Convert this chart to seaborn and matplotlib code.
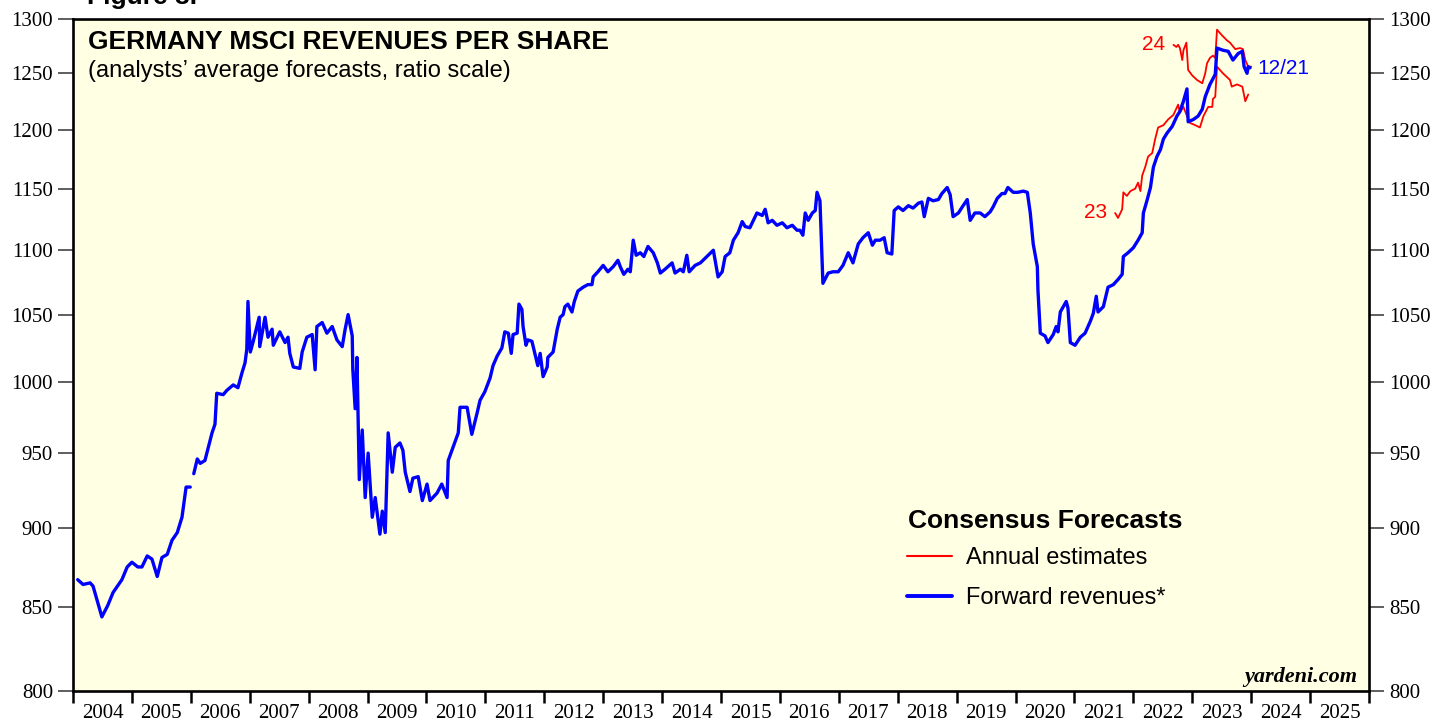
import matplotlib
matplotlib.use("Agg")
import matplotlib.pyplot as plt
import numpy as np
import pandas as pd
import seaborn as sns
from matplotlib.lines import Line2D
from matplotlib.ticker import FixedFormatter, FixedLocator, MultipleLocator, NullFormatter, NullLocator

# forward revenues per share (weekly-ish readings, decimal years); NaN marks the gap at end of 2005
fwd_years = [
	2004.08, 2004.17, 2004.29, 2004.34, 2004.49, 2004.59, 2004.68, 2004.83, 2004.92, 2005.00,
	2005.10, 2005.17, 2005.26, 2005.34, 2005.43, 2005.51, 2005.60, 2005.68, 2005.77, 2005.85,
	2005.92, 2005.99, 2006.02, 2006.05, 2006.11, 2006.16, 2006.24, 2006.29, 2006.36, 2006.41,
	2006.44, 2006.55, 2006.61, 2006.72, 2006.80, 2006.87, 2006.92, 2006.95, 2006.97, 2007.01,
	2007.06, 2007.16, 2007.17, 2007.26, 2007.31, 2007.38, 2007.40, 2007.51, 2007.60, 2007.65,
	2007.68, 2007.74, 2007.85, 2007.89, 2007.97, 2008.06, 2008.11, 2008.14, 2008.23, 2008.31,
	2008.40, 2008.48, 2008.57, 2008.62, 2008.67, 2008.74, 2008.75, 2008.79, 2008.82, 2008.86,
	2008.91, 2008.96, 2009.01, 2009.08, 2009.13, 2009.21, 2009.25, 2009.30, 2009.35, 2009.42,
	2009.47, 2009.55, 2009.60, 2009.64, 2009.72, 2009.77, 2009.86, 2009.93, 2010.01, 2010.06,
	2010.18, 2010.26, 2010.35, 2010.37, 2010.45, 2010.54, 2010.57, 2010.69, 2010.77, 2010.86,
	2010.91, 2010.99, 2011.08, 2011.13, 2011.20, 2011.28, 2011.33, 2011.39, 2011.44, 2011.47,
	2011.54, 2011.57, 2011.62, 2011.64, 2011.69, 2011.72, 2011.79, 2011.84, 2011.89, 2011.93,
	2011.98, 2012.05, 2012.06, 2012.15, 2012.22, 2012.27, 2012.32, 2012.35, 2012.40, 2012.47,
	2012.51, 2012.57, 2012.66, 2012.74, 2012.81, 2012.83, 2012.91, 2013.00, 2013.08, 2013.17,
	2013.25, 2013.29, 2013.35, 2013.42, 2013.46, 2013.51, 2013.56, 2013.63, 2013.69, 2013.76,
	2013.85, 2013.92, 2013.97, 2014.05, 2014.17, 2014.22, 2014.31, 2014.36, 2014.42, 2014.46,
	2014.56, 2014.65, 2014.76, 2014.87, 2014.95, 2015.02, 2015.07, 2015.15, 2015.21, 2015.29,
	2015.36, 2015.41, 2015.49, 2015.54, 2015.61, 2015.70, 2015.75, 2015.80, 2015.87, 2015.95,
	2016.04, 2016.12, 2016.21, 2016.29, 2016.34, 2016.39, 2016.43, 2016.48, 2016.55, 2016.60,
	2016.63, 2016.68, 2016.72, 2016.73, 2016.82, 2016.90, 2016.99, 2017.07, 2017.16, 2017.24,
	2017.33, 2017.41, 2017.50, 2017.57, 2017.62, 2017.70, 2017.77, 2017.82, 2017.90, 2017.94,
	2018.01, 2018.09, 2018.18, 2018.26, 2018.35, 2018.41, 2018.45, 2018.52, 2018.60, 2018.69,
	2018.75, 2018.84, 2018.89, 2018.94, 2019.03, 2019.11, 2019.18, 2019.23, 2019.31, 2019.40,
	2019.48, 2019.57, 2019.62, 2019.69, 2019.77, 2019.82, 2019.87, 2019.96, 2020.04, 2020.13,
	2020.20, 2020.25, 2020.30, 2020.37, 2020.38, 2020.42, 2020.50, 2020.55, 2020.64, 2020.69,
	2020.72, 2020.76, 2020.81, 2020.86, 2020.89, 2020.93, 2021.01, 2021.10, 2021.18, 2021.27,
	2021.32, 2021.37, 2021.40, 2021.49, 2021.57, 2021.66, 2021.74, 2021.81, 2021.83, 2021.91,
	2022.00, 2022.08, 2022.15, 2022.17, 2022.23, 2022.29, 2022.34, 2022.40, 2022.46, 2022.51,
	2022.57, 2022.66, 2022.74, 2022.79, 2022.85, 2022.91, 2022.93, 2023.02, 2023.10, 2023.17,
	2023.22, 2023.30, 2023.39, 2023.42, 2023.52, 2023.61, 2023.69, 2023.78, 2023.85, 2023.88,
	2023.93, 2023.95, 2023.98,
]
fwd_values = [
	867, 864, 865, 863, 844, 851, 859, 867, 875, 878,
	875, 875, 882, 880, 869, 881, 883, 892, 897, 907,
	927, 927, np.nan, 936, 946, 943, 945, 953, 964, 970,
	992, 991, 994, 998, 996, 1007, 1014, 1024, 1060, 1022,
	1030, 1048, 1026, 1048, 1033, 1039, 1027, 1037, 1029, 1033,
	1021, 1011, 1010, 1022, 1033, 1035, 1009, 1041, 1044, 1036,
	1041, 1031, 1026, 1039, 1050, 1034, 1009, 981, 1018, 932,
	966, 920, 950, 907, 920, 896, 911, 897, 964, 937,
	954, 957, 952, 937, 924, 933, 934, 918, 929, 918,
	923, 929, 920, 945, 954, 964, 982, 982, 963, 978,
	987, 993, 1003, 1012, 1019, 1025, 1037, 1036, 1021, 1035,
	1036, 1058, 1054, 1041, 1027, 1031, 1030, 1021, 1012, 1021,
	1004, 1011, 1018, 1022, 1039, 1048, 1050, 1056, 1058, 1052,
	1060, 1068, 1071, 1073, 1073, 1079, 1083, 1088, 1083, 1087,
	1092, 1087, 1081, 1085, 1083, 1108, 1096, 1098, 1095, 1103,
	1098, 1090, 1082, 1085, 1090, 1082, 1085, 1083, 1096, 1083,
	1088, 1090, 1095, 1100, 1079, 1083, 1095, 1098, 1108, 1114,
	1123, 1119, 1118, 1123, 1130, 1128, 1133, 1122, 1124, 1120,
	1122, 1118, 1120, 1116, 1116, 1112, 1130, 1124, 1130, 1132,
	1147, 1140, 1087, 1074, 1082, 1083, 1083, 1088, 1098, 1090,
	1105, 1110, 1114, 1104, 1108, 1108, 1110, 1098, 1097, 1132,
	1135, 1132, 1136, 1134, 1138, 1139, 1127, 1142, 1140, 1141,
	1146, 1151, 1145, 1127, 1130, 1136, 1141, 1124, 1130, 1130,
	1127, 1131, 1135, 1142, 1146, 1146, 1151, 1147, 1147, 1148,
	1147, 1130, 1105, 1087, 1069, 1036, 1034, 1029, 1035, 1041,
	1037, 1052, 1056, 1060, 1055, 1029, 1027, 1033, 1036, 1045,
	1051, 1064, 1052, 1056, 1071, 1073, 1077, 1081, 1095, 1098,
	1102, 1108, 1114, 1130, 1140, 1151, 1168, 1177, 1183, 1192,
	1197, 1203, 1212, 1216, 1225, 1236, 1207, 1209, 1212, 1218,
	1229, 1240, 1249, 1273, 1271, 1270, 1262, 1268, 1270, 1256,
	1250, 1256, 1255,
]

# annual consensus estimates for 2023 and 2024
est23_years = [
	2021.69, 2021.74, 2021.81, 2021.83, 2021.89, 2021.95, 2022.03, 2022.08, 2022.12, 2022.15,
	2022.20, 2022.25, 2022.32, 2022.37, 2022.42, 2022.51, 2022.59, 2022.68, 2022.76, 2022.79,
	2022.85, 2022.91, 2022.96, 2023.05, 2023.13, 2023.19, 2023.27, 2023.34, 2023.35, 2023.39,
	2023.42, 2023.52, 2023.64, 2023.67, 2023.76, 2023.85, 2023.90, 2023.95,
]
est23_values = [
	1130, 1126, 1133, 1147, 1144, 1148, 1150, 1155, 1148, 1161,
	1168, 1177, 1180, 1192, 1202, 1204, 1209, 1213, 1222, 1215,
	1220, 1212, 1206, 1204, 1202, 1212, 1220, 1220, 1227, 1229,
	1256, 1250, 1244, 1238, 1240, 1238, 1225, 1231,
]
est24_years = [
	2022.68, 2022.73, 2022.76, 2022.79, 2022.83, 2022.85, 2022.90, 2022.93, 2023.00, 2023.08,
	2023.17, 2023.22, 2023.25, 2023.30, 2023.35, 2023.39, 2023.42, 2023.50, 2023.59, 2023.64,
	2023.73, 2023.81, 2023.86, 2023.90, 2023.95, 2024.00,
]
est24_values = [
	1276, 1274, 1276, 1273, 1262, 1271, 1278, 1253, 1248, 1244,
	1241, 1250, 1259, 1264, 1266, 1264, 1290, 1285, 1280, 1278,
	1272, 1273, 1272, 1262, 1256, 1256,
]

year_labels = [str(y) for y in range(2004, 2026)]
y_ticks = [800, 850, 900, 950, 1000, 1050, 1100, 1150, 1200, 1250, 1300]

SANS = "Liberation Sans"
SERIF = "Liberation Serif"


def plot_revenues(out_path: str = "out.png") -> None:
	sns.set_style("ticks")
	plt.rcParams["font.family"] = [SANS, "DejaVu Sans"]
	for key in ["text.color", "axes.labelcolor", "xtick.color", "ytick.color"]:
		plt.rcParams[key] = "black"

	fwd = pd.DataFrame({"year": fwd_years, "value": fwd_values})
	fwd["seg"] = fwd["value"].isna().cumsum()
	fwd = fwd.dropna()
	est = pd.concat([
		pd.DataFrame({"year": est23_years, "value": est23_values, "series": "2023"}),
		pd.DataFrame({"year": est24_years, "value": est24_values, "series": "2024"}),
	])

	fig = plt.figure(figsize=(14.36, 7.19), dpi=100)
	ax = fig.add_axes([73 / 1436, 28 / 719, 1296 / 1436, 672 / 719])
	ax.set_facecolor("#FFFFE3")

	sns.lineplot(data=est, x="year", y="value", units="series", estimator=None,
				 color="#FF0000", lw=1.3, ax=ax)
	sns.lineplot(data=fwd, x="year", y="value", units="seg", estimator=None,
				 color="#0000FF", lw=2.4, ax=ax)

	ax.set_yscale("log")
	ax.set_ylim(800, 1300)
	ax.set_xlim(2004, 2026)
	ax.set_xlabel("")
	ax.set_ylabel("")

	ax.yaxis.set_major_locator(FixedLocator(y_ticks))
	ax.yaxis.set_major_formatter(FixedFormatter([str(v) for v in y_ticks]))
	ax.yaxis.set_minor_locator(NullLocator())
	ax.tick_params(axis="y", which="major", direction="out", length=10.8, width=1.1,
				   color="#333333", labelcolor="black", labelsize=15, pad=3.6, left=True, right=True,
				   labelleft=True, labelright=True, labelfontfamily=SERIF)

	ax.xaxis.set_major_locator(MultipleLocator(1))
	ax.xaxis.set_major_formatter(NullFormatter())
	ax.xaxis.set_minor_locator(FixedLocator([y + 0.5 for y in range(2004, 2026)]))
	ax.xaxis.set_minor_formatter(FixedFormatter(year_labels))
	ax.tick_params(axis="x", which="major", direction="out", length=8.6, width=1.8, color="black")
	ax.tick_params(axis="x", which="minor", length=0, pad=9, labelsize=15,
				   labelcolor="black", labelfontfamily=SERIF)

	for side in ["left", "right", "top", "bottom"]:
		ax.spines[side].set_visible(True)
		ax.spines[side].set_linewidth(1.9)
		ax.spines[side].set_color("black")

	ax.text(0.0116, 0.955, "GERMANY MSCI REVENUES PER SHARE", transform=ax.transAxes,
			fontsize=19, fontweight="bold", va="baseline", ha="left")
	ax.text(0.0116, 0.913, "(analysts\u2019 average forecasts, ratio scale)", transform=ax.transAxes,
			fontsize=17, va="baseline", ha="left")
	ax.text(0.9907, 0.0134, "yardeni.com", transform=ax.transAxes, fontsize=16,
			fontweight="bold", fontstyle="italic", family=SERIF, va="baseline", ha="right")
	fig.text(87 / 1436, 1 - 4 / 719, "Figure 3.", fontsize=19, fontweight="bold", va="baseline")

	ax.text(2021.555, 1130, "23", color="#FF0000", fontsize=15, ha="right", va="center")
	ax.text(2022.54, 1276, "24", color="#FF0000", fontsize=15, ha="right", va="center")
	ax.text(2024.10, 1254, "12/21", color="#0000FF", fontsize=15, ha="left", va="center")

	# legend: bold heading as its own text, entries below it
	fig.text(908 / 1436, 1 - 521 / 719, "Consensus Forecasts", fontsize=19,
			 fontweight="bold", va="center", ha="left")
	handles = [
		Line2D([], [], color="#FF0000", lw=1.5),
		Line2D([], [], color="#0000FF", lw=2.8),
	]
	ax.legend(handles, ["Annual estimates", "Forward revenues*"],
			  loc="upper left", bbox_to_anchor=(907 / 1436, 1 - 547 / 719),
			  bbox_transform=fig.transFigure, frameon=False, fontsize=17,
			  borderpad=0, borderaxespad=0, handlelength=1.9, handletextpad=0.6,
			  labelspacing=0.76)

	fig.savefig(out_path, dpi=100, facecolor="white")
	plt.close(fig)


if __name__ == "__main__":
	plot_revenues()
